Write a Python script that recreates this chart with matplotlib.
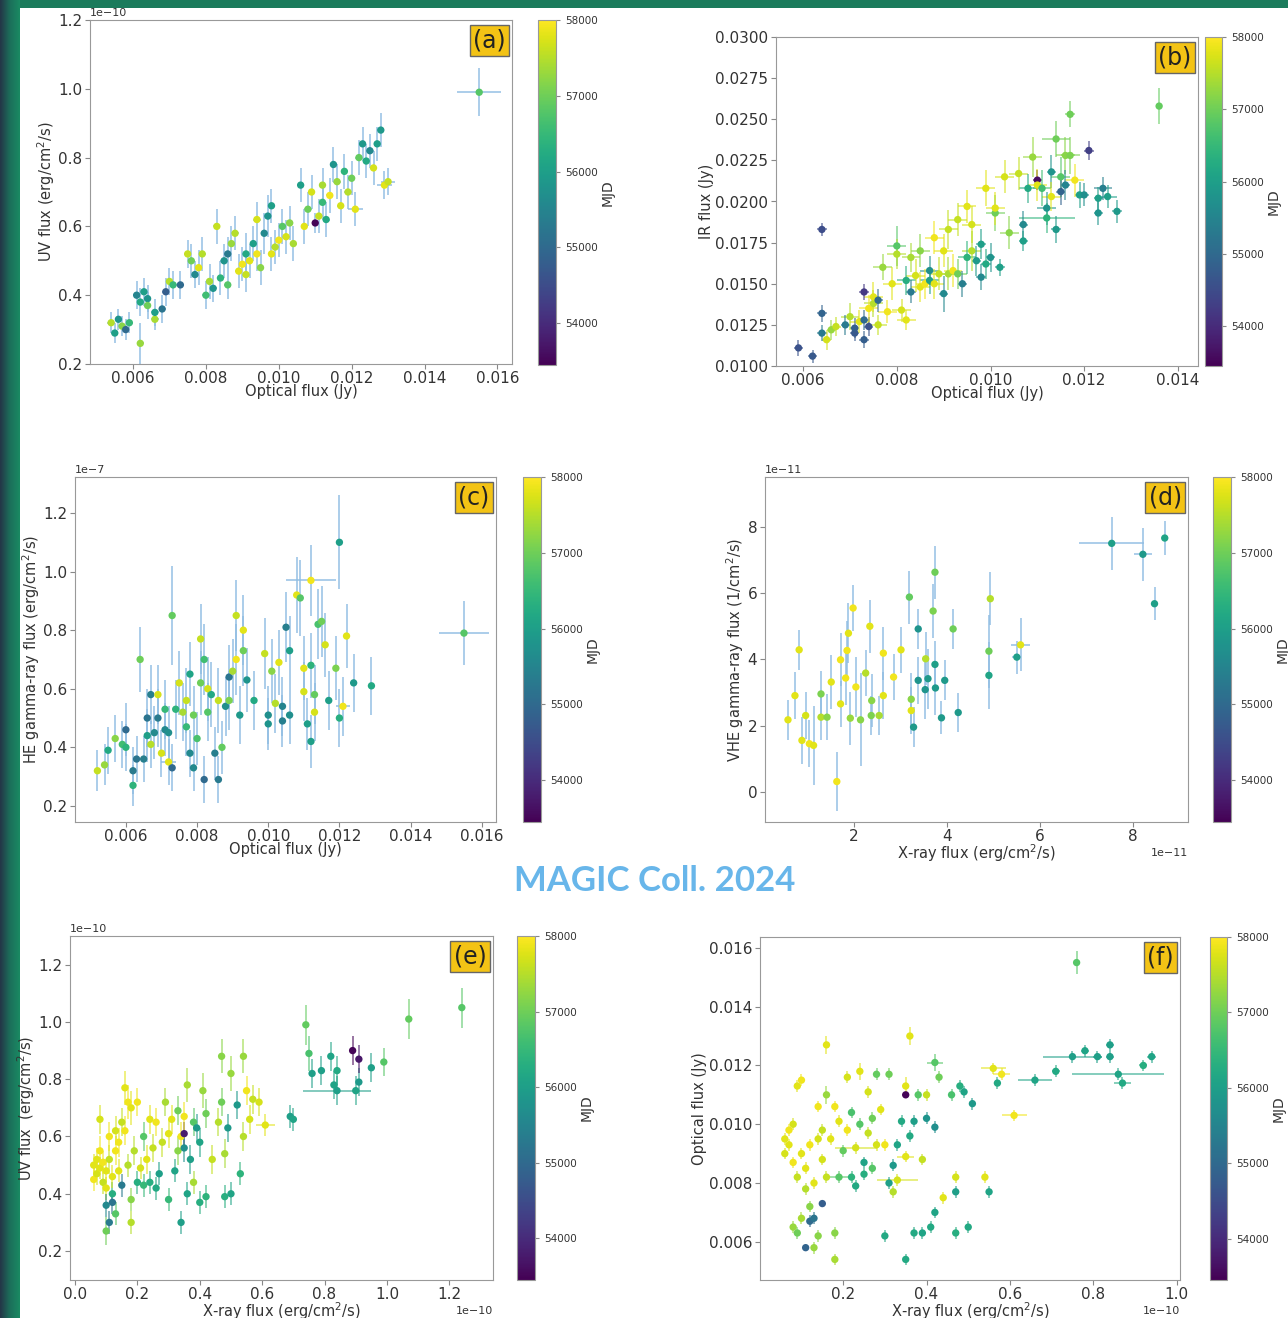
import numpy as np
import matplotlib.pyplot as plt
from matplotlib import colors, cm
from matplotlib.patches import Rectangle

# ---------------- (a) UV vs optical ----------------
a_opt = [
    0.0054, 0.0055, 0.0056, 0.0057, 0.0058, 0.0059, 0.0061, 0.0062, 0.0062, 0.0063,
    0.0064, 0.0064, 0.0066, 0.0066, 0.0068, 0.0069, 0.0070, 0.0071, 0.0073, 0.0075,
    0.0076, 0.0077, 0.0078, 0.0079, 0.0080, 0.0081, 0.0082, 0.0083, 0.0084, 0.0085,
    0.0086, 0.0086, 0.0087, 0.0088, 0.0089, 0.0090, 0.0091, 0.0091, 0.0092, 0.0093,
    0.0094, 0.0094, 0.0095, 0.0096, 0.0097, 0.0098, 0.0098, 0.0099, 0.0100, 0.0101,
    0.0102, 0.0103, 0.0104, 0.0106, 0.0107, 0.0108, 0.0109, 0.0110, 0.0111, 0.0112,
    0.0112, 0.0113, 0.0114, 0.0115, 0.0116, 0.0117, 0.0118, 0.0119, 0.0120, 0.0121,
    0.0122, 0.0123, 0.0124, 0.0125, 0.0126, 0.0127, 0.0128, 0.0129, 0.0130, 0.0155]
a_uv = [
    0.32, 0.29, 0.33, 0.31, 0.30, 0.32, 0.40, 0.38, 0.26, 0.41,
    0.39, 0.37, 0.33, 0.35, 0.36, 0.41, 0.44, 0.43, 0.43, 0.52,
    0.50, 0.46, 0.48, 0.52, 0.40, 0.44, 0.42, 0.60, 0.45, 0.50,
    0.52, 0.43, 0.55, 0.58, 0.47, 0.49, 0.46, 0.52, 0.50, 0.55,
    0.62, 0.52, 0.48, 0.58, 0.63, 0.66, 0.52, 0.54, 0.56, 0.60,
    0.57, 0.61, 0.55, 0.72, 0.60, 0.65, 0.70, 0.61, 0.63, 0.67,
    0.72, 0.62, 0.69, 0.78, 0.73, 0.66, 0.76, 0.70, 0.74, 0.65,
    0.80, 0.84, 0.79, 0.82, 0.77, 0.84, 0.88, 0.72, 0.73, 0.99]
a_mjd = [
    57500, 56000, 55800, 57200, 55000, 56500, 55500, 56200, 57300, 56000,
    55800, 57000, 57400, 56000, 55200, 54800, 57500, 56500, 55000, 57600,
    57000, 55600, 57800, 57500, 56600, 57400, 55800, 57600, 56400, 55800,
    55300, 56800, 57300, 57500, 57800, 57900, 57600, 56200, 57800, 56000,
    57700, 57900, 57200, 55600, 55800, 56000, 57800, 57500, 57900, 56800,
    57700, 57200, 57400, 56000, 57800, 57000, 57700, 53500, 57600, 56500,
    57400, 56200, 57900, 55800, 57300, 57700, 56400, 57500, 57000, 57800,
    56900, 55900, 56200, 55600, 57700, 56000, 55900, 57800, 57600, 56800]
a_uv_err = [
    0.03, 0.03, 0.03, 0.03, 0.03, 0.03, 0.04, 0.04, 0.06, 0.04,
    0.04, 0.04, 0.03, 0.04, 0.04, 0.04, 0.04, 0.04, 0.04, 0.04,
    0.05, 0.04, 0.05, 0.05, 0.04, 0.05, 0.04, 0.05, 0.05, 0.05,
    0.05, 0.04, 0.05, 0.05, 0.05, 0.05, 0.05, 0.06, 0.05, 0.05,
    0.05, 0.05, 0.05, 0.06, 0.06, 0.05, 0.05, 0.05, 0.05, 0.05,
    0.05, 0.05, 0.05, 0.05, 0.05, 0.05, 0.05, 0.03, 0.05, 0.05,
    0.05, 0.05, 0.05, 0.05, 0.05, 0.05, 0.05, 0.05, 0.05, 0.05,
    0.05, 0.05, 0.05, 0.05, 0.05, 0.05, 0.05, 0.04, 0.04, 0.07]
a_opt_err = [
    0.0001, 0.0001, 0.0001, 0.0001, 0.0001, 0.0001, 0.0001, 0.0001, 0.0001, 0.0001,
    0.0001, 0.0001, 0.0001, 0.0001, 0.0001, 0.0001, 0.0001, 0.0001, 0.0001, 0.0001,
    0.0001, 0.0001, 0.0001, 0.0001, 0.0001, 0.0001, 0.0001, 0.0001, 0.0001, 0.0001,
    0.0001, 0.0001, 0.0001, 0.0001, 0.0001, 0.0001, 0.0001, 0.0001, 0.0001, 0.0001,
    0.0001, 0.0001, 0.0001, 0.0001, 0.0001, 0.0001, 0.0001, 0.0001, 0.0001, 0.0001,
    0.0001, 0.0001, 0.0001, 0.0001, 0.0001, 0.0001, 0.0001, 0.0001, 0.0001, 0.0001,
    0.0001, 0.0001, 0.0001, 0.0001, 0.0001, 0.0001, 0.0001, 0.0001, 0.0001, 0.0002,
    0.0001, 0.0001, 0.0001, 0.0001, 0.0001, 0.0001, 0.0001, 0.0002, 0.0002, 0.0006]

# ---------------- (b) IR vs optical ----------------
b_opt = [
    0.0059, 0.0062, 0.0064, 0.0064, 0.0064, 0.0065, 0.0066, 0.0067, 0.0069, 0.0070,
    0.0071, 0.0071, 0.0072, 0.0073, 0.0073, 0.0073, 0.0074, 0.0074, 0.0075, 0.0075,
    0.0076, 0.0076, 0.0077, 0.0078, 0.0079, 0.0080, 0.0080, 0.0081, 0.0082, 0.0082,
    0.0083, 0.0083, 0.0084, 0.0085, 0.0085, 0.0086, 0.0087, 0.0087, 0.0088, 0.0088,
    0.0089, 0.0090, 0.0090, 0.0091, 0.0091, 0.0092, 0.0093, 0.0093, 0.0094, 0.0095,
    0.0095, 0.0096, 0.0096, 0.0097, 0.0098, 0.0098, 0.0099, 0.0099, 0.0100, 0.0101,
    0.0101, 0.0102, 0.0103, 0.0104, 0.0106, 0.0107, 0.0107, 0.0108, 0.0109, 0.0110,
    0.0110, 0.0111, 0.0112, 0.0112, 0.0113, 0.0113, 0.0114, 0.0114, 0.0115, 0.0115,
    0.0116, 0.0116, 0.0117, 0.0117, 0.0118, 0.0119, 0.0120, 0.0121, 0.0123, 0.0123,
    0.0124, 0.0125, 0.0127, 0.0136]
b_ir = [
    0.0111, 0.0106, 0.0132, 0.0183, 0.0120, 0.0116, 0.0122, 0.0124, 0.0125, 0.0130,
    0.0120, 0.0123, 0.0127, 0.0116, 0.0145, 0.0128, 0.0124, 0.0135, 0.0138, 0.0142,
    0.0140, 0.0125, 0.0160, 0.0133, 0.0150, 0.0173, 0.0168, 0.0134, 0.0152, 0.0128,
    0.0145, 0.0166, 0.0155, 0.0148, 0.0170, 0.0150, 0.0158, 0.0152, 0.0150, 0.0178,
    0.0156, 0.0144, 0.0170, 0.0183, 0.0156, 0.0158, 0.0189, 0.0156, 0.0150, 0.0166,
    0.0197, 0.0186, 0.0170, 0.0164, 0.0174, 0.0154, 0.0208, 0.0162, 0.0166, 0.0193,
    0.0196, 0.0160, 0.0215, 0.0181, 0.0217, 0.0186, 0.0176, 0.0208, 0.0227, 0.0213,
    0.0210, 0.0208, 0.0196, 0.0190, 0.0218, 0.0203, 0.0238, 0.0183, 0.0215, 0.0206,
    0.0228, 0.0210, 0.0228, 0.0253, 0.0213, 0.0204, 0.0204, 0.0231, 0.0202, 0.0193,
    0.0208, 0.0203, 0.0194, 0.0258]
b_mjd = [
    54600, 54700, 54900, 54500, 55300, 57700, 57300, 57600, 55300, 57500,
    54700, 54800, 57800, 54800, 54200, 55000, 54600, 57900, 57500, 57800,
    55000, 57600, 57300, 57900, 57800, 56800, 57500, 57700, 56300, 57800,
    55300, 57400, 57700, 57800, 57200, 57900, 55700, 56000, 57800, 57900,
    57600, 55600, 57800, 57600, 57400, 57900, 57600, 57000, 55400, 56400,
    57800, 57700, 57500, 55900, 56000, 55600, 57800, 56200, 55800, 57000,
    57800, 56000, 57700, 57200, 57600, 55600, 56000, 56200, 57300, 53600,
    57800, 56600, 55800, 56400, 55800, 57800, 57000, 55900, 56800, 54900,
    57200, 55500, 57100, 57000, 57900, 56000, 55700, 54300, 56000, 55800,
    55400, 56000, 55900, 56900]
b_ir_err = [
    0.0005, 0.0004, 0.0005, 0.0004, 0.0005, 0.0006, 0.0006, 0.0006, 0.0006, 0.0008,
    0.0005, 0.0006, 0.0007, 0.0005, 0.0005, 0.0006, 0.0006, 0.0008, 0.0008, 0.0009,
    0.0007, 0.0006, 0.0008, 0.0007, 0.0010, 0.0012, 0.0009, 0.0007, 0.0009, 0.0006,
    0.0007, 0.0009, 0.0010, 0.0009, 0.0010, 0.0009, 0.0009, 0.0008, 0.0009, 0.0010,
    0.0010, 0.0011, 0.0010, 0.0012, 0.0010, 0.0010, 0.0010, 0.0009, 0.0008, 0.0010,
    0.0010, 0.0011, 0.0012, 0.0009, 0.0009, 0.0008, 0.0011, 0.0009, 0.0009, 0.0011,
    0.0010, 0.0005, 0.0010, 0.0010, 0.0010, 0.0008, 0.0006, 0.0009, 0.0012, 0.0006,
    0.0010, 0.0011, 0.0010, 0.0009, 0.0010, 0.0009, 0.0011, 0.0008, 0.0012, 0.0008,
    0.0011, 0.0009, 0.0011, 0.0008, 0.0010, 0.0008, 0.0007, 0.0006, 0.0007, 0.0007,
    0.0007, 0.0007, 0.0007, 0.0011]
b_opt_err = [
    0.0001, 0.0001, 0.0001, 0.0001, 0.0001, 0.0001, 0.0001, 0.0001, 0.0001, 0.0002,
    0.0001, 0.0001, 0.0002, 0.0001, 0.0001, 0.0001, 0.0001, 0.0002, 0.0002, 0.0002,
    0.0001, 0.0002, 0.0002, 0.0002, 0.0002, 0.0002, 0.0002, 0.0002, 0.0002, 0.0002,
    0.0001, 0.0002, 0.0002, 0.0002, 0.0002, 0.0002, 0.0002, 0.0002, 0.0002, 0.0002,
    0.0002, 0.0001, 0.0002, 0.0002, 0.0002, 0.0002, 0.0002, 0.0002, 0.0001, 0.0002,
    0.0002, 0.0002, 0.0002, 0.0001, 0.0001, 0.0001, 0.0002, 0.0001, 0.0001, 0.0002,
    0.0002, 0.0001, 0.0002, 0.0002, 0.0002, 0.0001, 0.0001, 0.0002, 0.0002, 0.0001,
    0.0002, 0.0002, 0.0002, 0.0006, 0.0001, 0.0002, 0.0003, 0.0001, 0.0002, 0.0001,
    0.0002, 0.0001, 0.0002, 0.0001, 0.0002, 0.0001, 0.0001, 0.0001, 0.0001, 0.0001,
    0.0002, 0.0002, 0.0001, 0.00005]

# ---------------- (c) HE gamma vs optical ----------------
c_opt = [
    0.0052, 0.0054, 0.0055, 0.0057, 0.0059, 0.0060, 0.0060, 0.0062, 0.0062, 0.0063,
    0.0064, 0.0065, 0.0066, 0.0066, 0.0067, 0.0067, 0.0068, 0.0069, 0.0069, 0.0070,
    0.0071, 0.0071, 0.0072, 0.0072, 0.0073, 0.0073, 0.0074, 0.0075, 0.0076, 0.0077,
    0.0077, 0.0078, 0.0078, 0.0079, 0.0079, 0.0080, 0.0081, 0.0081, 0.0082, 0.0082,
    0.0083, 0.0083, 0.0084, 0.0085, 0.0086, 0.0086, 0.0087, 0.0088, 0.0089, 0.0089,
    0.0090, 0.0091, 0.0091, 0.0092, 0.0093, 0.0093, 0.0094, 0.0096, 0.0099, 0.0100,
    0.0100, 0.0101, 0.0102, 0.0103, 0.0104, 0.0104, 0.0105, 0.0106, 0.0106, 0.0108,
    0.0109, 0.0110, 0.0110, 0.0111, 0.0112, 0.0112, 0.0112, 0.0113, 0.0113, 0.0114,
    0.0115, 0.0116, 0.0117, 0.0119, 0.0120, 0.0120, 0.0121, 0.0122, 0.0124, 0.0129,
    0.0155]
c_he = [
    0.32, 0.34, 0.39, 0.43, 0.41, 0.46, 0.40, 0.27, 0.32, 0.36,
    0.70, 0.36, 0.50, 0.44, 0.58, 0.41, 0.45, 0.50, 0.58, 0.38,
    0.53, 0.46, 0.45, 0.35, 0.33, 0.85, 0.53, 0.62, 0.52, 0.56,
    0.47, 0.38, 0.65, 0.33, 0.51, 0.43, 0.77, 0.62, 0.29, 0.70,
    0.52, 0.60, 0.58, 0.38, 0.56, 0.29, 0.40, 0.54, 0.64, 0.56,
    0.66, 0.85, 0.70, 0.51, 0.73, 0.80, 0.63, 0.56, 0.72, 0.48,
    0.51, 0.66, 0.55, 0.69, 0.49, 0.54, 0.81, 0.73, 0.51, 0.92,
    0.91, 0.67, 0.59, 0.48, 0.97, 0.68, 0.42, 0.58, 0.52, 0.82,
    0.83, 0.75, 0.56, 0.67, 1.10, 0.50, 0.54, 0.78, 0.62, 0.61,
    0.79]
c_mjd = [
    57600, 57300, 56200, 57200, 56600, 55000, 56400, 56400, 55300, 55200,
    57000, 55400, 55200, 56000, 55400, 57500, 55600, 55300, 57700, 57700,
    56500, 55600, 55700, 57800, 55000, 56900, 56400, 57700, 57400, 57600,
    56500, 55600, 56100, 55600, 57000, 56700, 57600, 57000, 55000, 56600,
    56800, 57700, 56200, 55400, 57600, 55300, 56900, 55700, 55200, 57100,
    57400, 57600, 57900, 55900, 57000, 57800, 55800, 56200, 57600, 55800,
    55700, 57200, 57500, 57800, 55400, 55500, 55400, 56000, 55700, 57800,
    56800, 57800, 57700, 56000, 57900, 56400, 56000, 56900, 57700, 56700,
    57000, 57700, 56000, 57100, 56000, 56300, 57900, 57800, 55900, 56200,
    56800]
c_he_err = [
    0.07, 0.07, 0.08, 0.08, 0.08, 0.09, 0.08, 0.07, 0.08, 0.08,
    0.11, 0.08, 0.10, 0.09, 0.10, 0.08, 0.09, 0.10, 0.10, 0.08,
    0.10, 0.09, 0.09, 0.08, 0.08, 0.17, 0.10, 0.11, 0.10, 0.11,
    0.10, 0.08, 0.11, 0.08, 0.10, 0.09, 0.12, 0.11, 0.08, 0.12,
    0.10, 0.11, 0.11, 0.09, 0.11, 0.08, 0.09, 0.10, 0.11, 0.10,
    0.11, 0.12, 0.12, 0.10, 0.12, 0.12, 0.11, 0.10, 0.12, 0.09,
    0.10, 0.11, 0.10, 0.11, 0.09, 0.10, 0.12, 0.12, 0.10, 0.13,
    0.13, 0.11, 0.10, 0.09, 0.12, 0.11, 0.09, 0.10, 0.10, 0.12,
    0.12, 0.11, 0.10, 0.11, 0.16, 0.10, 0.10, 0.11, 0.10, 0.10,
    0.11]
c_opt_err = [
    0.00005, 0.00005, 0.00005, 0.00005, 0.00005, 0.00005, 0.00005, 0.00005, 0.00005, 0.00005,
    0.00005, 0.00005, 0.00005, 0.00005, 0.00005, 0.00005, 0.00005, 0.00005, 0.00005, 0.00005,
    0.00005, 0.00005, 0.00005, 0.0002, 0.00005, 0.00005, 0.00005, 0.00005, 0.00005, 0.00005,
    0.00005, 0.00005, 0.00005, 0.00005, 0.00005, 0.00005, 0.00005, 0.00005, 0.00005, 0.00005,
    0.00005, 0.00005, 0.00005, 0.00005, 0.00005, 0.00005, 0.00005, 0.00005, 0.00005, 0.00005,
    0.00005, 0.00005, 0.00005, 0.00005, 0.00005, 0.00005, 0.00005, 0.00005, 0.00005, 0.00005,
    0.00005, 0.00005, 0.00005, 0.00005, 0.00005, 0.00005, 0.00005, 0.00005, 0.00005, 0.00005,
    0.00005, 0.00005, 0.00005, 0.00005, 0.0007, 0.00005, 0.00005, 0.00005, 0.00005, 0.00005,
    0.00005, 0.00005, 0.00005, 0.00005, 0.00005, 0.00005, 0.0002, 0.00005, 0.00005, 0.00005,
    0.0007]

# ---------------- (d) VHE gamma vs X-ray (1e-11) ----------------
d_xray = [
    0.58, 0.73, 0.82, 0.96, 0.88, 1.04, 1.13, 1.29, 1.29, 1.42,
    1.51, 1.63, 1.71, 1.71, 1.82, 1.85, 1.88, 1.92, 1.98, 2.04,
    2.14, 2.25, 2.34, 2.38, 2.37, 2.54, 2.63, 2.63, 2.85, 3.01,
    3.28, 3.23, 3.23, 3.19, 3.38, 3.38, 3.53, 3.54, 3.59, 3.70,
    3.74, 3.74, 3.75, 3.88, 3.95, 4.13, 4.24, 4.93, 4.90, 4.90,
    5.50, 5.58, 7.54, 8.21, 8.46, 8.68]
d_vhe = [
    2.18, 2.91, 4.29, 2.31, 1.56, 1.46, 1.41, 2.96, 2.26, 2.26,
    3.32, 0.32, 3.99, 2.66, 3.44, 4.27, 4.79, 2.23, 5.55, 3.17,
    2.18, 3.59, 5.00, 2.76, 2.31, 2.31, 4.19, 2.91, 3.47, 4.29,
    1.96, 2.80, 2.46, 5.88, 3.37, 4.92, 3.09, 4.02, 3.42, 5.46,
    6.63, 3.85, 3.14, 2.24, 3.37, 4.92, 2.40, 5.83, 4.25, 3.52,
    4.07, 4.44, 7.50, 7.17, 5.68, 7.66]
d_mjd = [
    57800, 57800, 57800, 57700, 57800, 57900, 57800, 57100, 57500, 57200,
    57800, 57900, 57900, 57800, 57900, 57900, 57800, 57300, 57900, 57900,
    57200, 57500, 57800, 57200, 57100, 57400, 57900, 57800, 57900, 57800,
    55900, 57200, 57800, 56900, 55800, 55800, 55800, 57500, 55900, 57100,
    57000, 56000, 55900, 55900, 55900, 57000, 55900, 57500, 57000, 56100,
    56000, 57800, 56000, 55900, 56000, 56100]
d_vhe_err = [
    0.6, 0.7, 0.6, 0.7, 0.7, 0.7, 1.2, 0.7, 0.7, 0.7,
    0.8, 0.9, 0.8, 0.7, 0.8, 0.9, 0.9, 0.8, 0.7, 0.9,
    1.4, 0.7, 0.8, 0.8, 0.6, 0.6, 0.8, 0.7, 0.7, 0.7,
    0.6, 0.8, 0.7, 0.8, 0.7, 0.6, 0.9, 0.8, 0.9, 0.8,
    0.8, 0.7, 0.8, 0.5, 0.6, 0.6, 0.6, 0.8, 1.1, 1.0,
    0.5, 0.8, 0.8, 0.8, 0.5, 0.5]
d_xray_err = [
    0.05, 0.05, 0.05, 0.05, 0.05, 0.05, 0.05, 0.05, 0.05, 0.05,
    0.05, 0.05, 0.05, 0.05, 0.05, 0.05, 0.05, 0.05, 0.05, 0.05,
    0.05, 0.05, 0.05, 0.05, 0.05, 0.05, 0.05, 0.05, 0.05, 0.05,
    0.05, 0.05, 0.05, 0.05, 0.05, 0.05, 0.05, 0.05, 0.05, 0.05,
    0.05, 0.05, 0.05, 0.05, 0.05, 0.05, 0.05, 0.05, 0.05, 0.05,
    0.10, 0.20, 0.70, 0.20, 0.08, 0.05]

# ---------------- (e) UV vs X-ray (1e-10) ----------------
e_xray = [
    0.06, 0.06, 0.07, 0.07, 0.08, 0.08, 0.08, 0.09, 0.09, 0.10,
    0.10, 0.10, 0.10, 0.11, 0.11, 0.11, 0.12, 0.12, 0.12, 0.13,
    0.13, 0.13, 0.14, 0.14, 0.15, 0.15, 0.16, 0.16, 0.17, 0.17,
    0.18, 0.18, 0.18, 0.19, 0.20, 0.20, 0.21, 0.22, 0.22, 0.23,
    0.24, 0.24, 0.25, 0.26, 0.26, 0.27, 0.28, 0.29, 0.30, 0.30,
    0.31, 0.32, 0.33, 0.33, 0.34, 0.34, 0.35, 0.35, 0.35, 0.36,
    0.36, 0.37, 0.38, 0.38, 0.39, 0.40, 0.40, 0.41, 0.42, 0.42,
    0.44, 0.46, 0.47, 0.47, 0.48, 0.48, 0.49, 0.50, 0.50, 0.52,
    0.53, 0.54, 0.54, 0.55, 0.56, 0.57, 0.59, 0.61, 0.69, 0.70,
    0.74, 0.75, 0.76, 0.79, 0.82, 0.83, 0.84, 0.84, 0.89, 0.90,
    0.91, 0.91, 0.95, 0.99, 1.07, 1.24]
e_uv = [
    0.50, 0.45, 0.52, 0.47, 0.55, 0.49, 0.66, 0.44, 0.51, 0.42,
    0.48, 0.36, 0.27, 0.30, 0.52, 0.60, 0.40, 0.46, 0.37, 0.55,
    0.62, 0.33, 0.48, 0.58, 0.43, 0.65, 0.77, 0.62, 0.72, 0.50,
    0.70, 0.38, 0.30, 0.55, 0.72, 0.44, 0.49, 0.60, 0.43, 0.52,
    0.66, 0.44, 0.56, 0.65, 0.42, 0.47, 0.58, 0.72, 0.61, 0.38,
    0.66, 0.48, 0.55, 0.69, 0.30, 0.60, 0.61, 0.67, 0.56, 0.40,
    0.78, 0.52, 0.65, 0.44, 0.63, 0.37, 0.58, 0.76, 0.39, 0.68,
    0.52, 0.65, 0.88, 0.72, 0.39, 0.54, 0.63, 0.82, 0.40, 0.71,
    0.47, 0.88, 0.60, 0.76, 0.66, 0.73, 0.72, 0.64, 0.67, 0.66,
    0.99, 0.89, 0.82, 0.83, 0.88, 0.78, 0.76, 0.83, 0.90, 0.76,
    0.79, 0.87, 0.84, 0.86, 1.01, 1.05]
e_mjd = [
    57800, 57900, 57800, 57700, 57900, 57800, 57700, 57600, 57900, 57800,
    57800, 55600, 57000, 55300, 57600, 57900, 56300, 57800, 55200, 57900,
    57700, 56800, 57800, 57900, 55300, 57600, 57800, 57900, 57900, 57500,
    57800, 57200, 57500, 57500, 57900, 56300, 57700, 56800, 56500, 57800,
    57800, 56300, 57600, 57900, 56200, 56000, 57600, 57400, 57800, 56500,
    57800, 56100, 57200, 57000, 56000, 57900, 53800, 57900, 55700, 56100,
    57400, 56000, 56800, 57400, 55900, 56300, 56100, 57300, 56400, 57000,
    57600, 57500, 57200, 57000, 56300, 57400, 55900, 57300, 56100, 55900,
    56400, 57300, 57500, 57900, 57700, 57600, 57700, 57800, 56000, 56100,
    56900, 56700, 56000, 56000, 56100, 56100, 56000, 56200, 53500, 56100,
    55900, 53700, 56000, 56800, 56900, 56800]
e_uv_err = [
    0.04, 0.04, 0.04, 0.04, 0.05, 0.04, 0.05, 0.04, 0.04, 0.04,
    0.04, 0.04, 0.05, 0.04, 0.05, 0.05, 0.04, 0.04, 0.04, 0.05,
    0.05, 0.04, 0.04, 0.05, 0.04, 0.05, 0.06, 0.05, 0.06, 0.04,
    0.06, 0.04, 0.04, 0.05, 0.05, 0.04, 0.04, 0.05, 0.04, 0.05,
    0.05, 0.04, 0.05, 0.05, 0.04, 0.04, 0.05, 0.05, 0.05, 0.04,
    0.05, 0.04, 0.05, 0.05, 0.04, 0.05, 0.04, 0.05, 0.05, 0.04,
    0.06, 0.05, 0.05, 0.04, 0.05, 0.04, 0.05, 0.06, 0.04, 0.05,
    0.05, 0.05, 0.06, 0.05, 0.04, 0.05, 0.05, 0.06, 0.04, 0.05,
    0.04, 0.06, 0.05, 0.05, 0.05, 0.05, 0.05, 0.04, 0.04, 0.04,
    0.07, 0.06, 0.05, 0.05, 0.05, 0.05, 0.05, 0.05, 0.05, 0.05,
    0.05, 0.05, 0.05, 0.05, 0.07, 0.07]
e_xray_err = [
    0.01, 0.01, 0.01, 0.01, 0.01, 0.01, 0.01, 0.01, 0.01, 0.01,
    0.01, 0.01, 0.01, 0.01, 0.01, 0.01, 0.01, 0.01, 0.01, 0.01,
    0.01, 0.01, 0.01, 0.01, 0.01, 0.01, 0.01, 0.01, 0.01, 0.01,
    0.01, 0.01, 0.01, 0.01, 0.01, 0.01, 0.01, 0.01, 0.01, 0.01,
    0.01, 0.01, 0.01, 0.01, 0.01, 0.01, 0.01, 0.01, 0.01, 0.01,
    0.01, 0.01, 0.01, 0.01, 0.01, 0.01, 0.01, 0.01, 0.01, 0.01,
    0.01, 0.01, 0.01, 0.01, 0.01, 0.01, 0.01, 0.01, 0.01, 0.01,
    0.01, 0.01, 0.01, 0.01, 0.01, 0.01, 0.01, 0.01, 0.01, 0.01,
    0.01, 0.01, 0.01, 0.01, 0.01, 0.01, 0.01, 0.03, 0.01, 0.01,
    0.01, 0.01, 0.01, 0.01, 0.01, 0.01, 0.11, 0.01, 0.01, 0.01,
    0.01, 0.01, 0.01, 0.01, 0.01, 0.01]

# ---------------- (f) optical vs X-ray (1e-10) ----------------
f_xray = [
    0.06, 0.06, 0.07, 0.07, 0.08, 0.08, 0.08, 0.09, 0.09, 0.09,
    0.10, 0.10, 0.10, 0.11, 0.11, 0.11, 0.12, 0.12, 0.12, 0.13,
    0.13, 0.13, 0.14, 0.14, 0.14, 0.15, 0.15, 0.15, 0.16, 0.16,
    0.16, 0.17, 0.18, 0.18, 0.18, 0.19, 0.19, 0.20, 0.21, 0.21,
    0.22, 0.22, 0.23, 0.23, 0.24, 0.24, 0.25, 0.25, 0.26, 0.26,
    0.27, 0.27, 0.28, 0.28, 0.29, 0.30, 0.30, 0.31, 0.31, 0.32,
    0.32, 0.33, 0.33, 0.34, 0.35, 0.35, 0.35, 0.35, 0.36, 0.36,
    0.37, 0.37, 0.38, 0.39, 0.39, 0.40, 0.40, 0.41, 0.42, 0.42,
    0.42, 0.43, 0.44, 0.46, 0.47, 0.47, 0.47, 0.48, 0.49, 0.50,
    0.51, 0.54, 0.55, 0.56, 0.57, 0.58, 0.61, 0.66, 0.71, 0.75,
    0.76, 0.78, 0.81, 0.84, 0.84, 0.86, 0.87, 0.92, 0.94]
f_opt = [
    0.0095, 0.0090, 0.0098, 0.0093, 0.0087, 0.0100, 0.0065, 0.0113, 0.0082, 0.0063,
    0.0115, 0.0090, 0.0068, 0.0058, 0.0078, 0.0085, 0.0067, 0.0093, 0.0072, 0.0068,
    0.0058, 0.0080, 0.0095, 0.0062, 0.0106, 0.0088, 0.0073, 0.0098, 0.0127, 0.0110,
    0.0082, 0.0095, 0.0106, 0.0063, 0.0054, 0.0101, 0.0082, 0.0091, 0.0098, 0.0116,
    0.0104, 0.0082, 0.0092, 0.0079, 0.0118, 0.0100, 0.0087, 0.0083, 0.0097, 0.0111,
    0.0085, 0.0102, 0.0117, 0.0093, 0.0105, 0.0062, 0.0093, 0.0117, 0.0080, 0.0086,
    0.0077, 0.0081, 0.0093, 0.0101, 0.0110, 0.0113, 0.0089, 0.0054, 0.0096, 0.0130,
    0.0063, 0.0101, 0.0110, 0.0088, 0.0063, 0.0102, 0.0110, 0.0065, 0.0099, 0.0070,
    0.0121, 0.0116, 0.0075, 0.0110, 0.0082, 0.0077, 0.0063, 0.0113, 0.0111, 0.0065,
    0.0107, 0.0082, 0.0077, 0.0119, 0.0114, 0.0117, 0.0103, 0.0115, 0.0118, 0.0123,
    0.0155, 0.0125, 0.0123, 0.0123, 0.0127, 0.0117, 0.0114, 0.0120, 0.0123]
f_mjd = [
    57800, 57700, 57900, 57800, 57900, 57700, 57300, 57800, 57600, 57000,
    57900, 57800, 57400, 54900, 57500, 57800, 55000, 57900, 57200, 55200,
    57300, 57800, 57700, 57200, 57900, 57700, 54800, 57600, 57800, 57300,
    57600, 57800, 57900, 57200, 57400, 57800, 56800, 56900, 57900, 57700,
    56700, 56400, 57700, 56200, 57800, 56800, 56100, 56300, 57600, 57700,
    56800, 57000, 56900, 57700, 57800, 56200, 57900, 57000, 56000, 55900,
    57500, 57700, 56100, 56200, 53500, 57800, 57800, 56200, 56200, 57800,
    56200, 56000, 56800, 57600, 56100, 55800, 57600, 56200, 55700, 56100,
    56800, 57000, 57800, 56700, 57700, 56000, 56300, 56300, 56100, 56200,
    55900, 57800, 56100, 57800, 56200, 57900, 57900, 56100, 56200, 56000,
    56800, 56100, 56000, 56000, 56000, 56100, 56200, 56300, 56100]
f_opt_err = [
    0.0002, 0.0002, 0.0002, 0.0002, 0.0002, 0.0002, 0.0002, 0.0002, 0.0002, 0.0002,
    0.0002, 0.0002, 0.0002, 0.0001, 0.0002, 0.0002, 0.0002, 0.0002, 0.0002, 0.0002,
    0.0002, 0.0002, 0.0002, 0.0002, 0.0002, 0.0002, 0.0001, 0.0002, 0.0003, 0.0003,
    0.0002, 0.0002, 0.0002, 0.0002, 0.0002, 0.0002, 0.0002, 0.0002, 0.0002, 0.0002,
    0.0002, 0.0002, 0.0002, 0.0002, 0.0003, 0.0002, 0.0002, 0.0002, 0.0002, 0.0002,
    0.0002, 0.0002, 0.0002, 0.0002, 0.0002, 0.0002, 0.0002, 0.0002, 0.0002, 0.0002,
    0.0002, 0.0002, 0.0002, 0.0002, 0.0001, 0.0003, 0.0002, 0.0002, 0.0002, 0.0003,
    0.0002, 0.0002, 0.0002, 0.0002, 0.0002, 0.0002, 0.0002, 0.0002, 0.0002, 0.0002,
    0.0003, 0.0002, 0.0002, 0.0002, 0.0002, 0.0002, 0.0002, 0.0002, 0.0002, 0.0002,
    0.0002, 0.0002, 0.0002, 0.0002, 0.0002, 0.0002, 0.0002, 0.0002, 0.0002, 0.0002,
    0.0004, 0.0002, 0.0002, 0.0002, 0.0002, 0.0002, 0.0002, 0.0002, 0.0002]
f_xray_err = [
    0.005, 0.005, 0.005, 0.005, 0.005, 0.005, 0.005, 0.005, 0.005, 0.005,
    0.005, 0.005, 0.005, 0.005, 0.005, 0.005, 0.005, 0.005, 0.005, 0.005,
    0.005, 0.005, 0.005, 0.005, 0.005, 0.005, 0.005, 0.005, 0.005, 0.005,
    0.005, 0.005, 0.005, 0.005, 0.005, 0.005, 0.03, 0.005, 0.005, 0.005,
    0.005, 0.005, 0.05, 0.005, 0.005, 0.005, 0.005, 0.005, 0.005, 0.005,
    0.005, 0.005, 0.005, 0.005, 0.005, 0.005, 0.005, 0.005, 0.005, 0.005,
    0.005, 0.05, 0.005, 0.005, 0.005, 0.005, 0.02, 0.005, 0.005, 0.005,
    0.005, 0.005, 0.005, 0.005, 0.005, 0.005, 0.005, 0.005, 0.005, 0.005,
    0.02, 0.005, 0.005, 0.005, 0.005, 0.005, 0.005, 0.005, 0.005, 0.005,
    0.005, 0.005, 0.005, 0.03, 0.005, 0.02, 0.03, 0.04, 0.01, 0.07,
    0.005, 0.01, 0.01, 0.01, 0.01, 0.11, 0.02, 0.01, 0.01]

mjd_ticks = [54000, 55000, 56000, 57000, 58000]

W, H = 1288, 1318
fig = plt.figure(figsize=(W / 100, H / 100), dpi=100)
fig.patch.set_facecolor('white')

# green frame of the slide: gradient on the left, flat strip on top
strip = colors.LinearSegmentedColormap.from_list('strip', ['#243547', '#1c6f5a', '#1a8a63'])
gax = fig.add_axes([0, 0, 20 / W, 1])
gax.imshow(np.linspace(0, 1, 64)[None, :], cmap=strip, aspect='auto')
gax.axis('off')
fig.patches.append(Rectangle((20 / W, 1 - 8 / H), 1, 8 / H, transform=fig.transFigure,
                             facecolor='#1b7b5c', edgecolor='none'))

norm = colors.Normalize(53450, 58000)
cmap = plt.get_cmap('viridis')


def box(l, t, r, b):
    return [l / W, 1 - b / H, (r - l) / W, (b - t) / H]


def panel(ax_px, cb_px, x, y, xe, ye, mjd, xs, ys, xlim, ylim, xticks, yticks,
          xlabel, ylabel, tag, ebar):
    ax = fig.add_axes(box(*ax_px))
    x = np.array(x) * xs
    y = np.array(y) * ys
    xe = np.array(xe) * xs
    ye = np.array(ye) * ys
    mcol = cmap(norm(np.array(mjd)))
    if ebar == 'blue':
        ec = '#8fbde3'
        ealpha = 0.75
    else:
        ec = mcol
        ealpha = 0.55
    ax.errorbar(x, y, xerr=xe, yerr=ye, fmt='none', ecolor=ec, elinewidth=1.4,
                alpha=ealpha, zorder=1)
    ax.scatter(x, y, c=mjd, cmap=cmap, norm=norm, s=28, edgecolors='none', zorder=2)
    ax.set_xlim(xlim)
    ax.set_ylim(ylim)
    ax.set_xticks(np.array(xticks) * xs)
    ax.set_yticks(np.array(yticks) * ys)
    ax.set_xlabel(xlabel, fontsize=10.5, color='#333333', labelpad=-1.5)
    ax.set_ylabel(ylabel, fontsize=10.5, color='#333333', labelpad=1)
    ax.tick_params(labelsize=11, colors='#333333', length=3.5, color='#888888', pad=2)
    ax.tick_params(axis='x', pad=1.5)
    ax.xaxis.get_offset_text().set_fontsize(8)
    ax.yaxis.get_offset_text().set_fontsize(8)
    for s in ax.spines.values():
        s.set_color('#999999')
    ax.text(0.985, 0.975, tag, transform=ax.transAxes, ha='right', va='top', fontsize=17,
            color='#222222',
            bbox=dict(boxstyle='square,pad=0.15', facecolor='#f3c315', edgecolor='#666666', lw=1))
    cax = fig.add_axes(box(*cb_px))
    cb = fig.colorbar(cm.ScalarMappable(norm=norm, cmap=cmap), cax=cax)
    cb.set_ticks(mjd_ticks)
    cb.ax.tick_params(labelsize=7.5, colors='#333333', length=3, color='#888888')
    cb.outline.set_edgecolor('#999999')
    cb.set_label('MJD', fontsize=10, color='#333333', labelpad=2)
    return ax


panel((90, 20, 512, 364), (538, 20, 556, 365), a_opt, a_uv, a_opt_err, a_uv_err, a_mjd,
      1, 1e-10, (0.00482, 0.0164), (0.2e-10, 1.2e-10),
      [0.006, 0.008, 0.010, 0.012, 0.014, 0.016], [0.2, 0.4, 0.6, 0.8, 1.0, 1.2],
      'Optical flux (Jy)', 'UV flux (erg/cm$^2$/s)', '(a)', 'blue')

panel((776, 37, 1198, 366), (1205, 37, 1222, 366), b_opt, b_ir, b_opt_err, b_ir_err, b_mjd,
      1, 1, (0.00542, 0.01443), (0.01, 0.03),
      [0.006, 0.008, 0.010, 0.012, 0.014],
      [0.0100, 0.0125, 0.0150, 0.0175, 0.0200, 0.0225, 0.0250, 0.0275, 0.0300],
      'Optical flux (Jy)', 'IR flux (Jy)', '(b)', 'color')

panel((75, 477, 496, 822), (523, 477, 541, 822), c_opt, c_he, c_opt_err, c_he_err, c_mjd,
      1, 1e-7, (0.00457, 0.0164), (0.145e-7, 1.323e-7),
      [0.006, 0.008, 0.010, 0.012, 0.014, 0.016], [0.2, 0.4, 0.6, 0.8, 1.0, 1.2],
      'Optical flux (Jy)', 'HE gamma-ray flux (erg/cm$^2$/s)', '(c)', 'blue')

panel((765, 477, 1188, 822), (1213, 477, 1231, 822), d_xray, d_vhe, d_xray_err, d_vhe_err, d_mjd,
      1e-11, 1e-11, (0.086e-11, 9.18e-11), (-0.9e-11, 9.5e-11),
      [2, 4, 6, 8], [0, 2, 4, 6, 8],
      'X-ray flux (erg/cm$^2$/s)', 'VHE gamma-ray flux (1/cm$^2$/s)', '(d)', 'blue')

panel((70, 936, 493, 1280), (517, 936, 535, 1280), e_xray, e_uv, e_xray_err, e_uv_err, e_mjd,
      1e-10, 1e-10, (-0.016e-10, 1.34e-10), (0.099e-10, 1.30e-10),
      [0.0, 0.2, 0.4, 0.6, 0.8, 1.0, 1.2], [0.2, 0.4, 0.6, 0.8, 1.0, 1.2],
      'X-ray flux (erg/cm$^2$/s)', 'UV flux  (erg/cm$^2$/s)', '(e)', 'color')

panel((760, 937, 1180, 1280), (1210, 937, 1227, 1280), f_xray, f_opt, f_xray_err, f_opt_err, f_mjd,
      1e-10, 1, (0.0005e-10, 1.008e-10), (0.0047, 0.01637),
      [0.2, 0.4, 0.6, 0.8, 1.0], [0.006, 0.008, 0.010, 0.012, 0.014, 0.016],
      'X-ray flux (erg/cm$^2$/s)', 'Optical flux (Jy)', '(f)', 'color')

fig.text(655 / W, 1 - 881 / H, 'MAGIC Coll. 2024', ha='center', va='center',
         color='#68b6ea', fontsize=25, fontweight='bold', family='Lato')

fig.savefig('out.png', dpi=100)
